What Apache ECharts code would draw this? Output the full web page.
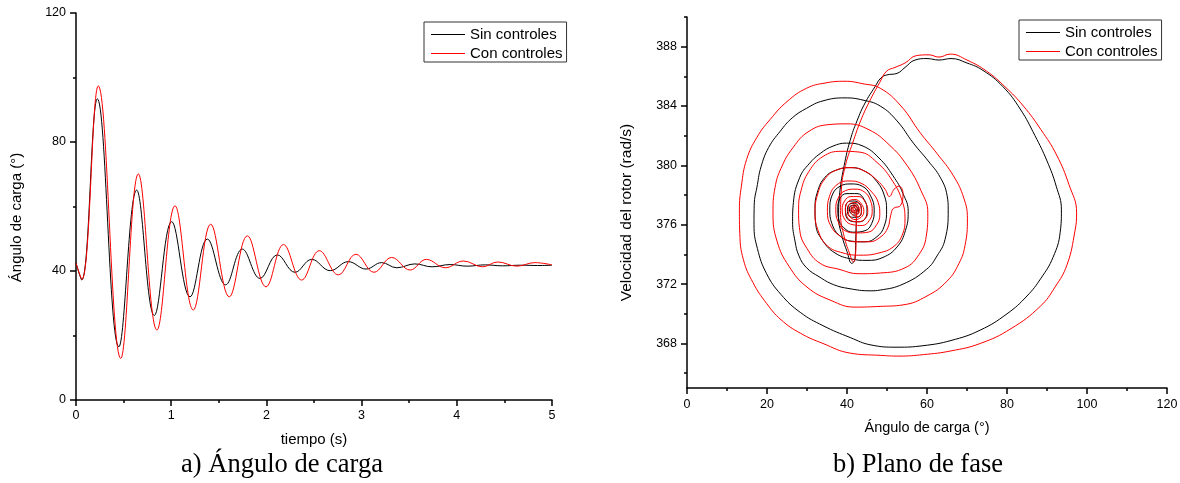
<!DOCTYPE html>
<html>
<head>
<meta charset="utf-8">
<script src="https://cdn.jsdelivr.net/npm/echarts@6/dist/echarts.min.js"></script>
<style>
  html, body { margin: 0; padding: 0; background: #fff; }
  #chart { width: 1180px; height: 483px; }
</style>
</head>
<body>
<div id="chart"></div>
<script>
// Load angle vs. time (s, degrees) — turning points of each response
const tiempoSin = [0, 0.06, 0.224, 0.45, 0.637, 0.823, 1.005, 1.198, 1.38, 1.572, 1.747, 1.933, 2.115, 2.30, 2.476, 2.67, 2.86, 3.046, 3.21, 3.37, 3.56, 3.74, 3.93, 4.11, 4.30, 4.48, 4.67, 4.85, 5.0];
const anguloSin = [42.4, 37.2, 93.4, 16.5, 65.1, 26.2, 55.3, 32.0, 49.9, 35.7, 46.8, 37.7, 45.0, 39.6, 43.6, 40.1, 42.9, 40.6, 42.6, 41.0, 42.2, 41.3, 42.0, 41.5, 41.9, 41.6, 41.8, 41.7, 41.8];
const tiempoCon = [0, 0.062, 0.234, 0.47, 0.655, 0.85, 1.04, 1.232, 1.415, 1.61, 1.80, 1.996, 2.18, 2.37, 2.556, 2.756, 2.94, 3.13, 3.316, 3.51, 3.68, 3.88, 4.07, 4.27, 4.43, 4.63, 4.82, 5.0];
const anguloCon = [42.4, 37.4, 97.4, 12.9, 70.1, 21.7, 60.2, 27.9, 54.5, 32.0, 50.9, 35.1, 48.2, 37.2, 46.3, 38.8, 45.2, 39.6, 44.2, 40.3, 43.6, 41.0, 43.1, 41.3, 42.8, 41.5, 42.6, 41.9];

// Phase-plane trajectories: [load angle (°), rotor speed (rad/s)]
const faseSin = [
  [42.4,377.0],[42.2,375.2],[42.0,373.7],[41.2,373.4],[40.0,374.2],[38.8,375.2],[37.9,376.5],[38.2,378.2],[39.3,380.0],[40.8,381.7],[42.5,383.0],[44.5,384.2],[47.0,385.3],[48.5,385.9],[50.0,386.1],[52.5,386.2],[54.5,386.6],[57.0,387.1],[60.0,387.2],[63.0,387.1],[66.0,387.2],[70.0,386.9],[74.0,386.4],[79.0,385.3],[83.3,383.8],[87.0,382.0],[90.0,380.3],[92.3,378.6],[93.6,377.0],[93.3,375.5],[91.5,373.8],[88.5,372.4],[85.0,371.2],[80.0,370.0],[73.3,368.9],[66.0,368.2],[59.0,367.85],[52.5,367.75],[46.0,367.9],[40.8,368.4],[34.0,369.2],[28.3,370.1],[23.5,371.3],[19.9,372.7],[17.6,374.4],[16.75,376.0],[16.8,377.3],[17.6,378.7],[18.5,379.9],[20.4,381.2],[23.3,382.3],[26.3,383.2],[29.9,383.85],[34.0,384.35],[39.5,384.55],[44.0,384.4],[48.3,384.0],[52.5,383.0],[56.6,381.5],[60.3,380.3],[63.3,379.2],[65.0,378.0],[65.3,377.0],[64.5,375.0],[62.5,373.9],[59.9,373.0],[54.0,372.0],[48.3,371.6],[45.8,371.55],[40.5,371.7],[36.6,371.97],[33.0,372.5],[29.9,373.1],[28.0,373.9],[27.0,374.9],[26.4,376.2],[26.6,377.5],[28.2,379.2],[30.5,380.1],[33.3,380.8],[36.5,381.3],[39.9,381.5],[44.0,381.3],[48.0,380.5],[51.5,379.3],[54.0,378.1],[55.3,376.9],[54.6,375.6],[52.5,374.5],[49.0,373.8],[45.0,373.6],[41.0,373.7],[37.0,374.1],[34.0,374.9],[32.2,376.0],[32.0,377.1],[32.6,378.2],[34.5,379.2],[37.5,379.7],[41.0,379.85],[44.5,379.6],[47.5,378.9],[49.3,378.0],[49.9,377.0],[49.3,375.9],[47.5,375.2],[44.5,374.85],[41.0,374.9],[38.0,375.3],[36.2,376.1],[35.7,377.0],[36.3,378.0],[38.3,378.6],[41.0,378.75],[43.8,378.6],[45.8,378.0],[46.8,377.0],[46.2,376.1],[44.5,375.6],[41.5,375.5],[39.2,375.8],[37.9,376.4],[37.7,377.0],[38.3,377.8],[40.0,378.1],[42.5,378.1],[44.3,377.7],[45.0,377.0],[44.5,376.4],[42.8,376.2],[40.5,376.3],[39.6,377.0],[40.3,377.55],[41.8,377.6],[43.2,377.4],[43.6,377.0],[43.1,376.55],[41.8,376.5],[40.5,376.6],[40.1,377.0],[40.7,377.4],[41.9,377.45],[42.7,377.3],[42.9,377.0],[42.5,376.7],[41.7,376.65],[40.9,376.8],[40.6,377.0],[41.1,377.3],[42.0,377.3],[42.6,377.0],[42.1,376.8],[41.3,376.85],[41.0,377.0],[41.5,377.2],[42.2,377.05],[41.8,376.9],[41.8,377.0]
];
const faseCon = [
  [42.4,377.0],[42.3,375.3],[42.1,373.9],[41.6,373.5],[40.6,374.1],[39.3,375.2],[38.4,376.7],[38.6,378.4],[39.6,380.0],[41.4,381.5],[43.4,383.0],[45.6,384.3],[48.2,385.6],[49.9,386.35],[52.0,386.6],[54.5,386.9],[57.4,387.4],[60.5,387.45],[63.0,387.3],[65.8,387.5],[70.0,387.1],[74.9,386.35],[79.5,385.3],[84.1,384.0],[88.5,382.4],[92.4,380.7],[95.5,378.7],[97.4,376.8],[97.0,375.6],[95.0,373.3],[92.0,371.8],[88.3,370.5],[81.0,369.0],[73.3,368.0],[66.0,367.5],[59.1,367.25],[53.0,367.15],[48.3,367.2],[40.8,367.35],[34.0,368.0],[28.3,368.7],[23.5,369.6],[19.9,370.7],[16.5,372.1],[14.1,373.65],[13.2,375.4],[13.1,377.0],[13.6,378.6],[14.9,380.4],[17.5,381.9],[20.8,383.1],[25.0,384.3],[29.9,385.2],[34.5,385.55],[39.5,385.67],[44.0,385.5],[48.3,385.2],[53.5,384.0],[58.3,382.2],[62.5,380.8],[66.6,379.3],[69.2,377.8],[70.1,376.4],[69.5,374.6],[68.0,373.4],[65.0,372.2],[60.0,371.2],[54.0,370.6],[48.3,370.5],[42.0,370.45],[36.0,370.9],[30.0,371.8],[25.5,373.2],[22.5,374.9],[21.5,376.8],[22.0,378.5],[23.5,379.8],[26.5,381.2],[30.5,382.3],[35.5,382.75],[40.0,382.8],[45.5,382.4],[50.5,381.4],[55.0,380.0],[58.5,378.3],[60.2,376.8],[59.8,375.2],[58.0,374.0],[54.5,373.1],[48.3,372.75],[43.0,372.7],[38.0,373.0],[33.3,373.4],[30.0,374.4],[28.2,375.6],[27.9,377.0],[28.5,378.3],[30.5,379.6],[34.0,380.6],[38.5,380.95],[43.0,380.9],[47.5,380.2],[51.5,378.9],[53.8,377.6],[54.5,376.4],[53.8,375.3],[51.5,374.5],[48.0,374.1],[43.5,373.95],[39.0,374.1],[35.0,374.6],[32.8,375.6],[32.0,376.8],[32.6,378.0],[34.5,379.1],[37.5,379.7],[41.0,379.85],[44.5,379.6],[47.5,379.0],[49.5,378.4],[50.6,377.9],[51.8,378.4],[53.0,378.6],[54.0,378.1],[53.4,377.3],[51.6,377.1],[50.9,376.6],[50.2,375.8],[48.5,375.2],[45.5,374.85],[42.0,374.85],[38.5,375.2],[36.0,375.9],[35.1,376.9],[35.6,377.9],[37.5,378.7],[40.5,378.95],[43.5,378.8],[46.2,378.2],[47.8,377.5],[48.2,376.7],[47.4,376.0],[45.3,375.5],[42.5,375.45],[39.5,375.6],[37.8,376.2],[37.2,377.0],[37.8,377.8],[39.6,378.3],[42.0,378.4],[44.4,378.2],[45.9,377.6],[46.3,376.9],[45.6,376.3],[43.8,375.95],[41.5,376.0],[39.6,376.3],[38.8,377.0],[39.4,377.6],[41.0,377.9],[43.0,377.9],[44.6,377.5],[45.2,376.9],[44.5,376.4],[42.8,376.2],[40.8,376.3],[39.8,376.7],[39.6,377.1],[40.5,377.6],[42.0,377.7],[43.6,377.4],[44.2,376.9],[43.5,376.5],[42.0,376.35],[40.6,376.6],[40.3,377.0],[40.9,377.45],[42.3,377.5],[43.5,377.2],[43.6,376.8],[42.6,376.55],[41.3,376.7],[41.0,377.0],[41.6,377.35],[42.6,377.3],[43.1,377.0],[42.6,376.7],[41.6,376.8],[41.3,377.05],[42.0,377.25],[42.8,377.05],[42.3,376.8],[41.6,376.95],[41.9,377.15],[42.4,377.0],[42.0,376.9],[41.9,377.0]
];

// Tick positions and labels
const ticksTiempo = { min: 0, max: 5, interval: 1 };
const ticksAngulo = { min: 0, max: 120, interval: 40 };
const ticksFaseX = { min: 0, max: 120, interval: 20 };
const velocidadEtiquetas = [368, 372, 376, 380, 384, 388];
const velocidadMenores = [366, 370, 374, 378, 382, 386, 390];

const nombres = ['Sin controles', 'Con controles'];
const colores = ['#000000', '#ff0000'];

const SANS = 'Liberation Sans, Arial, sans-serif';
const SERIF = 'Liberation Serif, Times New Roman, serif';

const pares = (xs, ys) => xs.map((x, i) => [x, ys[i]]);

const lineaEje = { lineStyle: { color: '#000', width: 1.5 } };
const estiloMarca = { color: '#000', width: 1.5 };
const etiqueta = (margin) => ({ fontSize: 12.5, fontFamily: SANS, color: '#000', margin });
const nombreEje = (size, extra) => Object.assign({ fontSize: size, fontFamily: SANS, color: '#000' }, extra || {});

function ejeValor(extra) {
  return Object.assign({
    type: 'value',
    axisLine: lineaEje,
    axisTick: { show: true, length: 6, lineStyle: estiloMarca },
    minorTick: { show: true, splitNumber: 2, length: 3, lineStyle: estiloMarca },
    splitLine: { show: false },
    minorSplitLine: { show: false },
    nameLocation: 'middle',
    nameTextStyle: nombreEje(15)
  }, extra);
}

// Legend keys are plain line segments in the series colour
const leyenda = (left, top) => ({
  data: nombres,
  orient: 'vertical',
  left, top,
  padding: [5, 4, 1, 7],
  icon: 'rect',
  itemWidth: 34,
  itemHeight: 1.2,
  itemGap: 4,
  borderColor: '#333',
  borderWidth: 1,
  selectedMode: false,
  textStyle: { fontSize: 15, fontFamily: SANS, color: '#000' }
});

const chart = echarts.init(document.getElementById('chart'), null, { renderer: 'canvas' });

chart.setOption({
  animation: false,
  backgroundColor: '#fff',
  grid: [
    { left: 76, top: 13, width: 476, height: 387, containLabel: false, outerBoundsMode: 'none' },
    { left: 687, top: 17, width: 480, height: 371, containLabel: false, outerBoundsMode: 'none' }
  ],
  legend: [leyenda(424, 22), leyenda(1019, 20)],
  xAxis: [
    ejeValor(Object.assign({ gridIndex: 0, name: 'tiempo (s)', nameGap: 32, axisLabel: etiqueta(9) }, ticksTiempo)),
    ejeValor(Object.assign({ gridIndex: 1, name: 'Ángulo de carga (°)', nameGap: 32, nameTextStyle: nombreEje(14.5), axisLabel: etiqueta(10) }, ticksFaseX))
  ],
  yAxis: [
    ejeValor(Object.assign({
      gridIndex: 0, name: 'Ángulo de carga (°)', nameGap: 52,
      nameTextStyle: nombreEje(15, { padding: [0, 22, 0, 0] }),
      axisLabel: etiqueta(10)
    }, ticksAngulo)),
    ejeValor({
      gridIndex: 1, min: 365, max: 390,
      name: 'Velocidad del rotor (rad/s)', nameGap: 52,
      nameTextStyle: nombreEje(15.5, { padding: [0, 20, 0, 0] }),
      minorTick: { show: false },
      axisTick: { show: true, length: 6, lineStyle: estiloMarca, customValues: velocidadEtiquetas },
      axisLabel: Object.assign(etiqueta(10), { customValues: velocidadEtiquetas })
    }),
    {
      type: 'value', gridIndex: 1, min: 365, max: 390, position: 'left', offset: 0,
      axisLine: { show: false },
      axisLabel: { show: false },
      splitLine: { show: false },
      axisTick: { show: true, length: 3, lineStyle: estiloMarca, customValues: velocidadMenores }
    }
  ],
  series: [
    {
      name: nombres[0], type: 'line', xAxisIndex: 0, yAxisIndex: 0,
      data: pares(tiempoSin, anguloSin), symbol: 'none', showSymbol: false, smooth: 0.4,
      lineStyle: { color: colores[0], width: 1 }, itemStyle: { color: colores[0] }
    },
    {
      name: nombres[1], type: 'line', xAxisIndex: 0, yAxisIndex: 0,
      data: pares(tiempoCon, anguloCon), symbol: 'none', showSymbol: false, smooth: 0.4,
      lineStyle: { color: colores[1], width: 1 }, itemStyle: { color: colores[1] }
    },
    {
      name: nombres[0], type: 'line', xAxisIndex: 1, yAxisIndex: 1,
      data: faseSin, symbol: 'none', showSymbol: false, smooth: 0.45,
      lineStyle: { color: colores[0], width: 1 }, itemStyle: { color: colores[0] }
    },
    {
      name: nombres[1], type: 'line', xAxisIndex: 1, yAxisIndex: 1,
      data: faseCon, symbol: 'none', showSymbol: false, smooth: 0.45,
      lineStyle: { color: colores[1], width: 1 }, itemStyle: { color: colores[1] }
    }
  ],
  graphic: [
    { type: 'text', x: 282, y: 465, style: { text: 'a) Ángulo de carga', fontSize: 26.5, fontFamily: SERIF, fill: '#000', align: 'center', verticalAlign: 'middle' } },
    { type: 'text', x: 918, y: 465, style: { text: 'b) Plano de fase', fontSize: 26.5, fontFamily: SERIF, fill: '#000', align: 'center', verticalAlign: 'middle' } }
  ]
});
</script>
</body>
</html>
